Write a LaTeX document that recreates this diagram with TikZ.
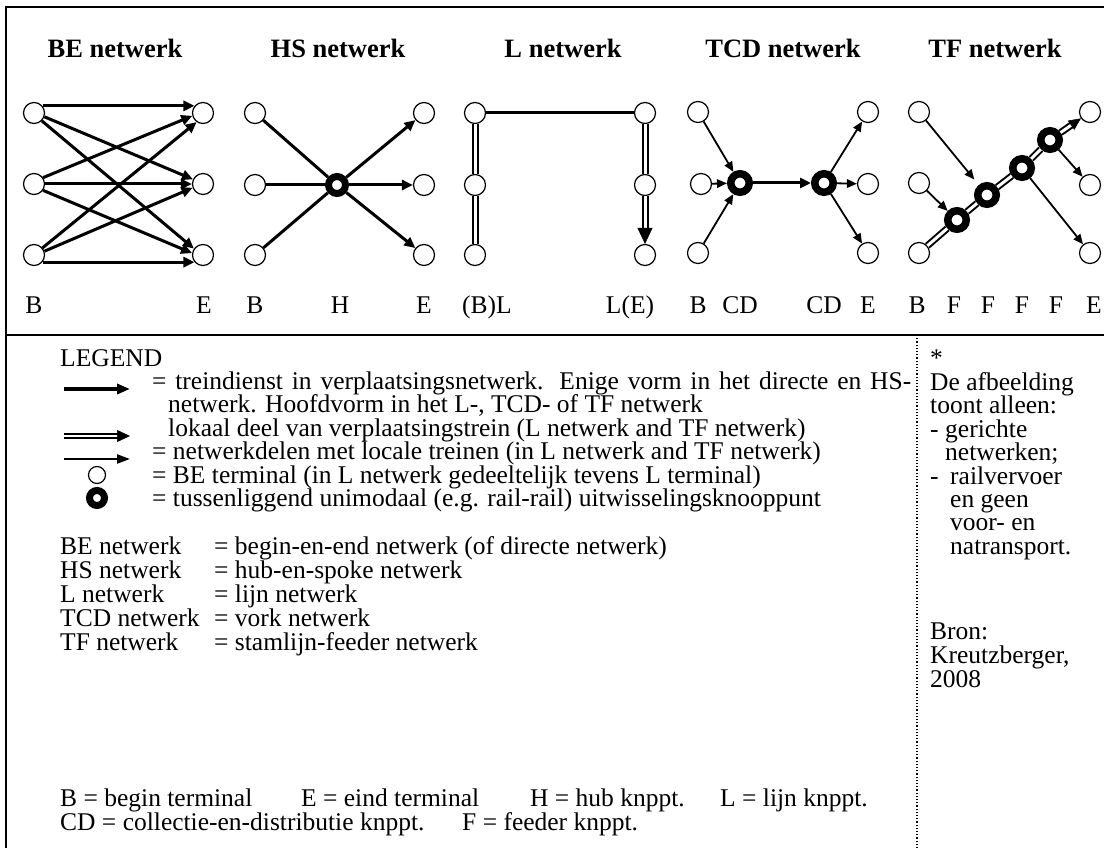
\documentclass[tikz,border=0pt]{standalone}
\usepackage{fontspec}
\setmainfont{Liberation Serif}
\usetikzlibrary{arrows.meta,calc}
\begin{document}
\begin{tikzpicture}[x=1pt,y=-1pt,
  every node/.style={font=\fontsize{25.5}{24}\selectfont},
  term/.style={circle, draw, line width=1.2pt, minimum size=21pt, inner sep=0pt, fill=white},
  hub/.style={circle, draw, line width=7.5pt, minimum size=18.5pt, inner sep=0pt, fill=white},
  mainarr/.style={line width=3pt, -{Triangle[length=11pt,width=10pt]}},
  mainline/.style={line width=3pt},
  localarr/.style={line width=1.8pt, -{Triangle[length=10pt,width=8.5pt]}},
  dbl/.style={double, line width=2pt, double distance=3pt},
  tiponly/.style={draw=white, line width=0.5pt},
  title/.style={font=\fontsize{26.5}{24}\selectfont\bfseries, anchor=base},
  lbl/.style={anchor=base, inner sep=0pt},
  txt/.style={anchor=base west, inner sep=0pt}
]
\useasboundingbox (0,0) rectangle (1104,848);
\clip (0,0) rectangle (1104,848);
% frame
\draw[line width=1.5pt] (6,7) rectangle (1112,852);
\draw[line width=1.5pt] (6,335) -- (1110,335);
\draw[dotted, line width=1.2pt] (917,335) -- (917,850);

% titles
\node[title] (t1) at (115,58) {BE netwerk};
\node[title] (t2) at (338,58) {HS netwerk};
\node[title] (t3) at (563,58) {L netwerk};
\node[title] (t4) at (783,58) {TCD netwerk};
\node[title] (t5) at (995,58) {TF netwerk};

% ---------- BE network
\node[term] (BL1) at (34,113) {};
\node[term] (BL2) at (34,184) {};
\node[term] (BL3) at (34,255) {};
\node[term] (BR1) at (203,113) {};
\node[term] (BR2) at (203,184) {};
\node[term] (BR3) at (203,255) {};
\draw[mainarr] (BL1.40) -- (BR1.140);
\draw[mainarr] (BL1.-20) -- (BR2.155);
\draw[mainarr] (BL1.-45) -- (BR3.145);
\draw[mainarr] (BL2.35) -- (BR1.-165);
\draw[mainarr] (BL2.0) -- (BR2.180);
\draw[mainarr] (BL2.-35) -- (BR3.170);
\draw[mainarr] (BL3.40) -- (BR1.-125);
\draw[mainarr] (BL3.20) -- (BR2.-160);
\draw[mainarr] (BL3.-40) -- (BR3.-140);

% ---------- HS network
\node[term] (HL1) at (255,113) {};
\node[term] (HL2) at (255,185) {};
\node[term] (HL3) at (255,255) {};
\node[hub, line width=7pt, minimum size=17pt] (H) at (337,185) {};
\node[term] (HR1) at (424,113) {};
\node[term] (HR2) at (424,185) {};
\node[term] (HR3) at (424,255) {};
\foreach \n in {HL1,HL2,HL3} \draw[mainline] (\n) -- (H);
\foreach \n in {HR1,HR2,HR3} \draw[mainarr] (H) -- (\n);

% ---------- L network
\node[term] (Ll1) at (475,113) {};
\node[term] (Ll2) at (475,185) {};
\node[term] (Ll3) at (475,255) {};
\node[term] (Lr1) at (645,113) {};
\node[term] (Lr2) at (645,185) {};
\node[term] (Lr3) at (645,255) {};
\draw[mainline] (Ll1) -- (Lr1);
\draw[dbl] (Ll1) -- (Ll2);
\draw[dbl] (Ll2) -- (Ll3);
\draw[dbl] (Lr1) -- (Lr2);
\draw[dbl, shorten >=14pt] (Lr2) -- (Lr3);
\draw[tiponly, -{Triangle[length=16pt,width=15pt,color=black]}] (Lr2) -- (Lr3);

% ---------- TCD network
\node[term] (Tl1) at (698,112) {};
\node[term] (Tl2) at (701,184) {};
\node[term] (Tl3) at (698,253) {};
\node[hub] (T1) at (740,183) {};
\node[hub] (T2) at (824,183) {};
\node[term] (Tr1) at (868,112) {};
\node[term] (Tr2) at (868,184) {};
\node[term] (Tr3) at (868,253) {};
\foreach \n in {Tl1,Tl2,Tl3} \draw[localarr] (\n) -- (T1);
\draw[mainarr] (T1) -- (T2);
\foreach \n in {Tr1,Tr2,Tr3} \draw[localarr] (T2) -- (\n);

% ---------- TF network
\node[term] (Fl1) at (919,112) {};
\node[term] (Fl2) at (919,183) {};
\node[term] (Fl3) at (919,253) {};
\node[hub] (F1) at (957,220) {};
\node[hub] (F2) at (987,195) {};
\node[hub] (F3) at (1022,168) {};
\node[hub] (F4) at (1050,140) {};
\node[term] (Fr1) at (1090,112) {};
\node[term] (Fr2) at (1090,185) {};
\node[term] (Fr3) at (1090,253) {};
\draw[dbl] (Fl3) -- (F1);
\draw[dbl] (F1) -- (F2);
\draw[dbl] (F2) -- (F3);
\draw[dbl] (F3) -- (F4);
\draw[dbl, shorten >=10pt] (F4) -- (Fr1);
\draw[tiponly, -{Triangle[length=12pt,width=11pt,color=black]}] (F4) -- (Fr1);
\draw[localarr, shorten >=7pt] (Fl1) -- (F2);
\draw[localarr] (Fl2) -- (F1);
\draw[localarr] (F4) -- (Fr2);
\draw[localarr] (F3) -- (Fr3);

% ---------- bottom labels of networks
\foreach \x/\t [count=\i] in {34/B,204/E,255/B,340/H,424/E,487/(B)L,630/L(E),698/B,740/CD,824/CD,868/E,917/B,954/F,988/F,1022/F,1056/F,1094/E}
  \node[lbl] (lab\i) at (\x,313) {\t};

% ---------- legend
\node[txt] (leg) at (60,366) {LEGEND};
\coordinate (a1s) at (64,389); \coordinate (a1e) at (130,389);
\draw[line width=3.2pt, -{Triangle[length=13pt,width=10pt]}] (a1s) -- (a1e);
\node[txt] (l1) at (152,389) {\makebox[759pt][s]{= treindienst in verplaatsingsnetwerk. Enige vorm in het directe en HS-}};
\node[txt] (l1b) at (168,412) {netwerk. Hoofdvorm in het L-, TCD- of TF netwerk};
\coordinate (a2s) at (64,436); \coordinate (a2e) at (130,436);
\draw[dbl, line width=2pt, double distance=2.5pt, shorten >=11pt] (a2s) -- (a2e);
\draw[tiponly, -{Triangle[length=13pt,width=12pt,color=black]}] (a2s) -- (a2e);
\node[txt] (l2) at (168,436) {lokaal deel van verplaatsingstrein (L netwerk and TF netwerk)};
\coordinate (a3s) at (64,459); \coordinate (a3e) at (130,459);
\draw[line width=2.2pt, -{Triangle[length=13pt,width=9pt]}] (a3s) -- (a3e);
\node[txt] (l3) at (152,459) {= netwerkdelen met locale treinen (in L netwerk and TF netwerk)};
\node[term, minimum size=17pt] (lc) at (97,475) {};
\node[txt] (l4) at (152,483) {= BE terminal (in L netwerk gedeeltelijk tevens L terminal)};
\node[hub, line width=7pt, minimum size=15pt] (lh) at (97,498) {};
\node[txt] (l5) at (152,506) {= tussenliggend unimodaal (e.g. rail-rail) uitwisselingsknooppunt};

\foreach \y/\a/\b [count=\i] in {554/BE netwerk/= begin-en-end netwerk (of directe netwerk),
  578/HS netwerk/= hub-en-spoke netwerk,
  602/L netwerk/= lijn netwerk,
  626/TCD netwerk/= vork netwerk,
  650/TF netwerk/= stamlijn-feeder netwerk}{
  \node[txt] (n\i) at (60,\y) {\a};
  \node[txt] (d\i) at (214,\y) {\b};
}
\node[txt] (k1) at (60,806) {B = begin terminal};
\node[txt] (k2) at (301,806) {E = eind terminal};
\node[txt] (k3) at (530,806) {H = hub knppt.};
\node[txt] (k4) at (720,806) {L = lijn knppt.};
\node[txt] (k5) at (60,830) {CD = collectie-en-distributie knppt.};
\node[txt] (k6) at (462,830) {F = feeder knppt.};

% ---------- right note
\node[txt] (r0) at (930,366) {*};
\node[txt] (r1) at (930,390) {De afbeelding};
\node[txt] (r2) at (930,413) {toont alleen:};
\node[txt] (r3) at (930,437) {-};
\node[txt] (r3b) at (945,437) {gerichte};
\node[txt] (r4) at (945,460) {netwerken;};
\node[txt] (r5) at (930,484) {-};
\node[txt] (r5b) at (950,484) {railvervoer};
\node[txt] (r6) at (950,507) {en geen};
\node[txt] (r7) at (950,530) {voor- en};
\node[txt] (r8) at (950,554) {natransport.};
\node[txt] (r9) at (930,639) {Bron:};
\node[txt] (r10) at (930,663) {Kreutzberger,};
\node[txt] (r11) at (930,687) {2008};
\end{tikzpicture}
\end{document}
